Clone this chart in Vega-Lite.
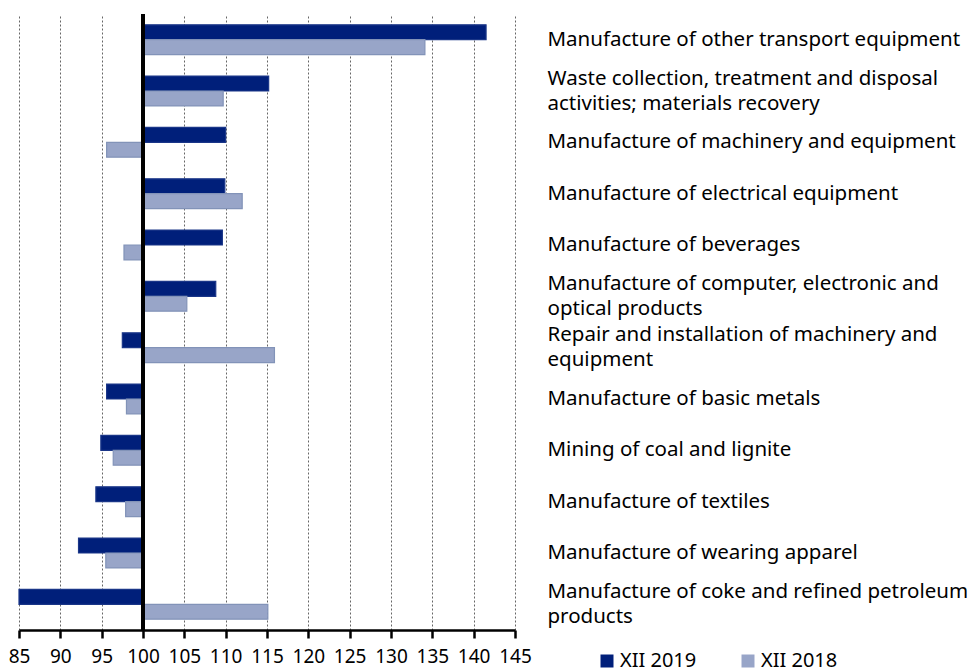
{
  "$schema": "https://vega.github.io/schema/vega-lite/v6.json",
  "width": 496,
  "height": 616,
  "autosize": {"type": "none"},
  "padding": {"left": 19, "top": 14, "right": 456, "bottom": 41},
  "config": {"view": {"stroke": null}, "font": "Noto Sans"},
  "data": {
    "values": [
      {"cat": "Manufacture of other transport equipment", "series": "XII 2019", "value": 141.5},
      {"cat": "Manufacture of other transport equipment", "series": "XII 2018", "value": 134.1},
      {"cat": "Waste collection, treatment and disposal|activities; materials recovery", "series": "XII 2019", "value": 115.2},
      {"cat": "Waste collection, treatment and disposal|activities; materials recovery", "series": "XII 2018", "value": 109.7},
      {"cat": "Manufacture of machinery and equipment", "series": "XII 2019", "value": 110.0},
      {"cat": "Manufacture of machinery and equipment", "series": "XII 2018", "value": 95.6},
      {"cat": "Manufacture of electrical equipment", "series": "XII 2019", "value": 109.9},
      {"cat": "Manufacture of electrical equipment", "series": "XII 2018", "value": 112.0},
      {"cat": "Manufacture of beverages", "series": "XII 2019", "value": 109.6},
      {"cat": "Manufacture of beverages", "series": "XII 2018", "value": 97.7},
      {"cat": "Manufacture of computer, electronic and|optical products", "series": "XII 2019", "value": 108.8},
      {"cat": "Manufacture of computer, electronic and|optical products", "series": "XII 2018", "value": 105.3},
      {"cat": "Repair and installation of machinery and|equipment", "series": "XII 2019", "value": 97.5},
      {"cat": "Repair and installation of machinery and|equipment", "series": "XII 2018", "value": 115.9},
      {"cat": "Manufacture of basic metals", "series": "XII 2019", "value": 95.6},
      {"cat": "Manufacture of basic metals", "series": "XII 2018", "value": 98.0},
      {"cat": "Mining of coal and lignite", "series": "XII 2019", "value": 94.9},
      {"cat": "Mining of coal and lignite", "series": "XII 2018", "value": 96.4},
      {"cat": "Manufacture of textiles", "series": "XII 2019", "value": 94.3},
      {"cat": "Manufacture of textiles", "series": "XII 2018", "value": 97.9},
      {"cat": "Manufacture of wearing apparel", "series": "XII 2019", "value": 92.2},
      {"cat": "Manufacture of wearing apparel", "series": "XII 2018", "value": 95.5},
      {"cat": "Manufacture of coke and refined petroleum|products", "series": "XII 2019", "value": 85.0},
      {"cat": "Manufacture of coke and refined petroleum|products", "series": "XII 2018", "value": 115.1}
    ]
  },
  "layer": [
    {
      "mark": {"type": "bar", "strokeWidth": 1.2},
      "encoding": {
        "y": {
          "field": "cat", "type": "nominal", "sort": null,
          "scale": {"paddingInner": 0.42, "paddingOuter": 0.21},
          "axis": {
            "orient": "right", "title": null, "ticks": false, "domain": false,
            "labelPadding": 32, "labelExpr": "split(datum.label, '|')",
            "labelFontSize": 20.5, "labelColor": "black", "labelLimit": 500,
            "labelAlign": "left", "labelBaseline": "middle", "labelLineHeight": 25,
            "labelOffset": {"condition": {"test": "indexof(datum.value, '|') >= 0", "value": -12.5}, "value": 0}
          }
        },
        "yOffset": {"field": "series", "type": "nominal", "sort": ["XII 2019", "XII 2018"]},
        "x": {
          "field": "value", "type": "quantitative",
          "scale": {"domain": [85, 145], "nice": false, "zero": false},
          "axis": {
            "title": null, "values": [85, 90, 95, 100, 105, 110, 115, 120, 125, 130, 135, 140, 145],
            "grid": true, "gridDash": [2, 2], "gridColor": "#666666", "gridWidth": 1,
            "domainColor": "black", "domainWidth": 2.5, "tickColor": "black", "tickWidth": 2.5,
            "tickSize": 8, "labelFontSize": 19, "labelColor": "black", "labelPadding": 9,
            "labelOverlap": false, "labelFlush": false
          }
        },
        "x2": {"datum": 100},
        "color": {
          "field": "series", "type": "nominal",
          "scale": {"domain": ["XII 2019", "XII 2018"], "range": ["#001F7A", "#98A5C8"]},
          "legend": {
            "orient": "none", "legendX": 578, "legendY": 637, "direction": "horizontal",
            "title": null, "symbolType": "square", "symbolSize": 169, "symbolStrokeWidth": 0,
            "labelFontSize": 20, "labelColor": "black", "columnPadding": 41, "labelOffset": 3, "padding": 0
          }
        },
        "stroke": {
          "field": "series", "type": "nominal",
          "scale": {"domain": ["XII 2019", "XII 2018"], "range": ["#1a3688", "#8293B8"]},
          "legend": null
        }
      }
    },
    {
      "mark": {"type": "rule", "color": "black", "strokeWidth": 3.5},
      "encoding": {"x": {"datum": 100}}
    }
  ]
}
